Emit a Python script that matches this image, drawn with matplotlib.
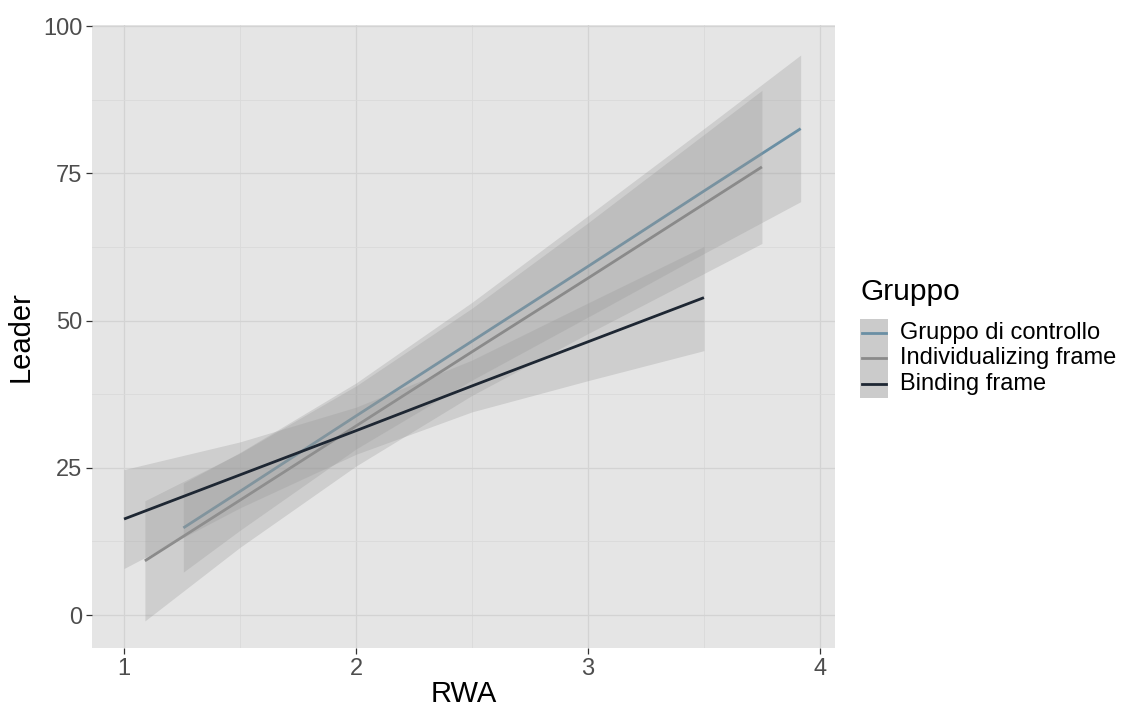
import matplotlib
matplotlib.use("Agg")
import matplotlib.pyplot as plt
from matplotlib.patches import Rectangle
from matplotlib.lines import Line2D

plt.rcParams['font.family'] = ['Liberation Sans', 'DejaVu Sans']

# groups (legend order)
groups = ['Gruppo di controllo', 'Individualizing frame', 'Binding frame']
colors = ['#6a8fa4', '#8a8a8a', '#1e2733']

x_ctrl = [1.256, 1.5, 2.0, 2.5, 3.0, 3.5, 3.917]
fit_ctrl = [14.8, 21.0, 33.8, 46.5, 59.2, 72.0, 82.6]
lo_ctrl = [7.3, 14.4, 28.2, 39.9, 50.6, 61.4, 70.2]
hi_ctrl = [22.4, 27.6, 39.4, 53.1, 67.8, 82.6, 95.1]

x_ind = [1.09, 1.5, 2.0, 2.5, 3.0, 3.5, 3.75]
fit_ind = [9.2, 19.5, 32.1, 44.7, 57.2, 69.8, 76.1]
lo_ind = [-1.0, 11.5, 25.3, 37.3, 47.8, 58.0, 63.1]
hi_ind = [19.4, 27.5, 38.9, 52.1, 66.6, 81.6, 89.1]

x_bind = [1.0, 1.5, 2.0, 2.5, 3.0, 3.5]
fit_bind = [16.3, 23.8, 31.3, 38.9, 46.4, 53.9]
lo_bind = [7.9, 18.2, 27.3, 34.5, 39.8, 44.9]
hi_bind = [24.7, 29.4, 35.3, 43.3, 53.0, 62.6]

xs = [x_ctrl, x_ind, x_bind]
fits = [fit_ctrl, fit_ind, fit_bind]
los = [lo_ctrl, lo_ind, lo_bind]
his = [hi_ctrl, hi_ind, hi_bind]

x_ticks = [1, 2, 3, 4]
y_ticks = [0, 25, 50, 75, 100]

fig = plt.figure(figsize=(11.24, 7.08), dpi=100)
ax = fig.add_axes([92/1124, 1-648/708, (835-92)/1124, (648-25)/708])
ax.set_facecolor('#e5e5e5')

for i in range(len(groups)):
    ax.fill_between(xs[i], los[i], his[i], color='#999999', alpha=0.3,
                    linewidth=0, zorder=2+2*i)
    ax.plot(xs[i], fits[i], color=colors[i], linewidth=2.0,
            solid_capstyle='butt', zorder=3+2*i)

ax.set_xlim(0.862, 4.065)
ax.set_ylim(-5.6, 100.2)
ax.set_xticks(x_ticks)
ax.set_yticks(y_ticks)
ax.set_xticks([1.5, 2.5, 3.5], minor=True)
ax.set_yticks([12.5, 37.5, 62.5, 87.5], minor=True)
ax.grid(which='major', color='#d3d3d3', linewidth=0.9, zorder=0)
ax.grid(which='minor', color='#dadada', linewidth=0.6, zorder=0)
ax.set_axisbelow(True)
for s in ax.spines.values():
    s.set_visible(False)
ax.tick_params(which='major', length=4, width=0.9, color='#333333',
               labelcolor='#4d4d4d', labelsize=17, pad=3)
ax.tick_params(which='minor', length=0)

ax.set_xlabel('RWA', fontsize=21, color='black', labelpad=0)
ax.set_ylabel('Leader', fontsize=21, color='black', labelpad=6)

# legend drawn by hand in pixel coordinates of the figure
W, H = 1124, 708
def fx(px):
    return px / W
def fy(py):
    return 1 - py / H

fig.text(fx(860), fy(300), 'Gruppo', fontsize=21.5, color='black',
         ha='left', va='baseline')
fig.add_artist(Rectangle((fx(860), fy(398)), fx(888) - fx(860), fy(319) - fy(398),
                         transform=fig.transFigure, facecolor='#cbcbcb',
                         edgecolor='none'))
rows = [333, 358, 384]
for i, g in enumerate(groups):
    fig.add_artist(Line2D([fx(862), fx(886)], [fy(rows[i]), fy(rows[i])],
                          transform=fig.transFigure, color=colors[i],
                          linewidth=2.0))
    fig.text(fx(900), fy(rows[i]), g, fontsize=17, color='black',
             ha='left', va='center')

fig.savefig('out.png', dpi=100)
